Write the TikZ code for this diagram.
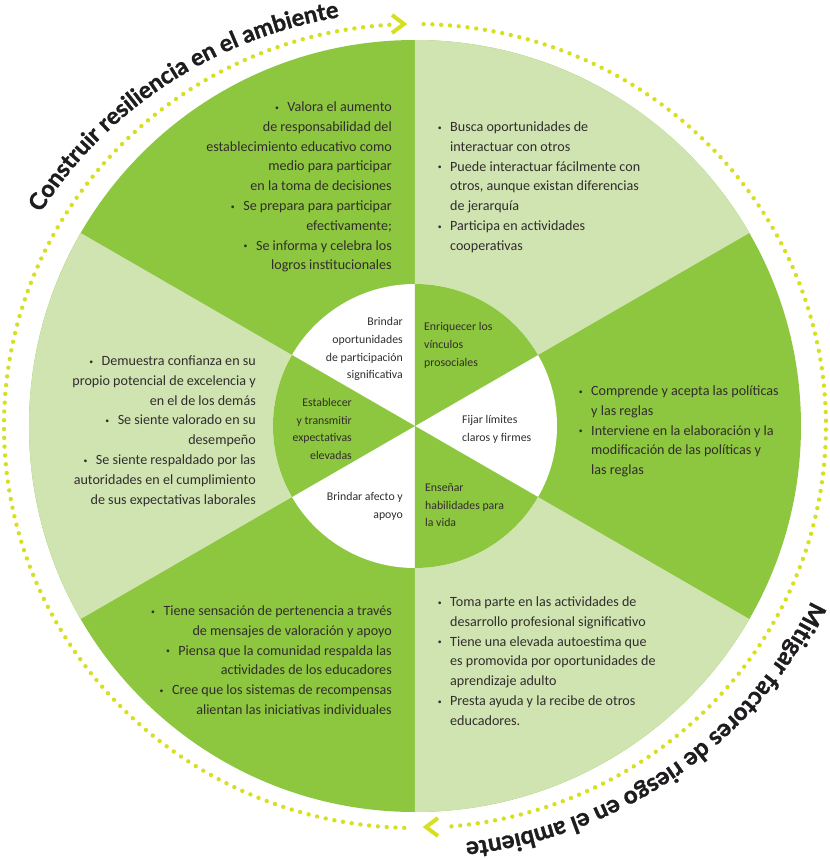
\documentclass[tikz,border=0pt]{standalone}
\usepackage{graphicx}
\usepackage{fontspec}
\setmainfont{Carlito}
\newfontfamily\titlefont[BoldFeatures={FakeBold=1.2}]{Lato}
\usetikzlibrary{decorations.text}
\definecolor{dkgreen}{RGB}{141,198,63}
\definecolor{ltgreen}{RGB}{208,228,178}
\definecolor{dotyellow}{RGB}{215,223,35}
\definecolor{bodytext}{RGB}{50,45,45}
\definecolor{titlecol}{RGB}{30,28,30}
\newcommand{\bul}{\raisebox{0.2ex}{\scalebox{0.55}{\textbullet}}\hspace{0.6em}}
\newcommand{\hbul}{\llap{\raisebox{0.2ex}{\scalebox{0.55}{\textbullet}}\hspace{0.6em}}}
\newcommand{\titlestyle}{\titlefont\bfseries\fontsize{23.5}{23.5}\selectfont\color{titlecol}}
\newcommand{\titlestyleb}{\titlefont\bfseries\fontsize{24.2}{24.2}\selectfont\color{titlecol}}
\begin{document}
\begin{tikzpicture}[x=1pt,y=1pt,
  body/.style={text=bodytext, font=\fontsize{14.1}{19.8}\selectfont, inner sep=0pt},
  inner/.style={text=bodytext, font=\fontsize{11.8}{17.7}\selectfont, inner sep=0pt},
  dots/.style={draw=dotyellow, line width=4.4pt, line cap=round, dash pattern=on 0pt off 8.8pt},
  chev/.style={draw=dotyellow, line width=4pt, line join=miter}]
\useasboundingbox (-415,-434) rectangle (415,426);
% outer ring of sectors
\fill[dkgreen] (0,0) circle[radius=386];
\fill[ltgreen] (0,0) -- (30:386) arc[start angle=30,end angle=90,radius=386] -- cycle;
\fill[ltgreen] (0,0) -- (150:386) arc[start angle=150,end angle=210,radius=386] -- cycle;
\fill[ltgreen] (0,0) -- (270:386) arc[start angle=270,end angle=330,radius=386] -- cycle;
% inner circle
\fill[white] (0,0) circle[radius=142];
\fill[dkgreen] (0,0) -- (30:142) arc[start angle=30,end angle=90,radius=142] -- cycle;
\fill[dkgreen] (0,0) -- (150:142) arc[start angle=150,end angle=210,radius=142] -- cycle;
\fill[dkgreen] (0,0) -- (270:142) arc[start angle=270,end angle=330,radius=142] -- cycle;
% dotted arcs
\draw[dots] (268.5:411 and 402) arc[start angle=268.5,end angle=93.4,x radius=411,y radius=402];
\draw[dots] (88.8:411 and 402) arc[start angle=88.8,end angle=-86.1,x radius=411,y radius=402];
\draw[chev] (-23,411) -- (-11,402) -- (-23,393);
\draw[chev] (23,-392) -- (11,-401) -- (23,-410);
% curved titles
\path[decorate,decoration={text along path,text align=center,
  text={|\titlestyle|Construir resiliencia en el ambiente}}]
  (170:436 and 415) arc[start angle=170,end angle=80,x radius=436,y radius=415];
\path[decorate,decoration={text along path,text align=center,
  text={|\titlestyleb|Mitigar factores de riesgo en el ambiente}}]
  (-8.7:436 and 419) arc[start angle=-8.7,end angle=-98.7,x radius=436,y radius=419];
% outer texts
\node[body,align=right,anchor=north east] (tl) at (-23,324.5) {\bul Valora el aumento\\de responsabilidad del\\establecimiento educativo como\\medio para participar\\en la toma de decisiones\\\bul Se prepara para participar\\efectivamente;\\\bul Se informa y celebra los\\logros institucionales};
\node[body,align=left,anchor=north west] (tr) at (35,304.5) {\hbul Busca oportunidades de\\interactuar con otros\\\hbul Puede interactuar fácilmente con\\otros, aunque existan diferencias\\de jerarquía\\\hbul Participa en actividades\\cooperativas};
\node[body,align=right,anchor=north east] (le) at (-159,70.5) {\bul Demuestra confianza en su\\propio potencial de excelencia y\\en el de los demás\\\bul Se siente valorado en su\\desempeño\\\bul Se siente respaldado por las\\autoridades en el cumplimiento\\de sus expectativas laborales};
\node[body,align=left,anchor=north west] (ri) at (176,40.5) {\hbul Comprende y acepta las políticas\\y las reglas\\\hbul Interviene en la elaboración y la\\modificación de las políticas y\\las reglas};
\node[body,align=right,anchor=north east] (bl) at (-23,-179.5) {\bul Tiene sensación de pertenencia a través\\de mensajes de valoración y apoyo\\\bul Piensa que la comunidad respalda las\\actividades de los educadores\\\bul Cree que los sistemas de recompensas\\alientan las iniciativas individuales};
\node[body,align=left,anchor=north west] (br) at (35,-170.5) {\hbul Toma parte en las actividades de\\desarrollo profesional significativo\\\hbul Tiene una elevada autoestima que\\es promovida por oportunidades de\\aprendizaje adulto\\\hbul Presta ayuda y la recibe de otros\\educadores.};
% inner labels
\node[inner,align=right,anchor=north east] (i1) at (-12,108.5) {Brindar\\oportunidades\\de participación\\significativa};
\node[inner,align=left,anchor=north west] (i2) at (9,103.5) {Enriquecer los\\vínculos\\prosociales};
\node[inner,align=right,anchor=north east] (i3) at (-63,28) {Establecer\\y transmitir\\expectativas\\elevadas};
\node[inner,align=left,anchor=north west] (i4) at (47,10.5) {Fijar límites\\claros y firmes};
\node[inner,align=right,anchor=north east] (i5) at (-12,-66.5) {Brindar afecto y\\apoyo};
\node[inner,align=left,anchor=north west] (i6) at (10,-57.5) {Enseñar\\habilidades para\\la vida};
\end{tikzpicture}
\end{document}
